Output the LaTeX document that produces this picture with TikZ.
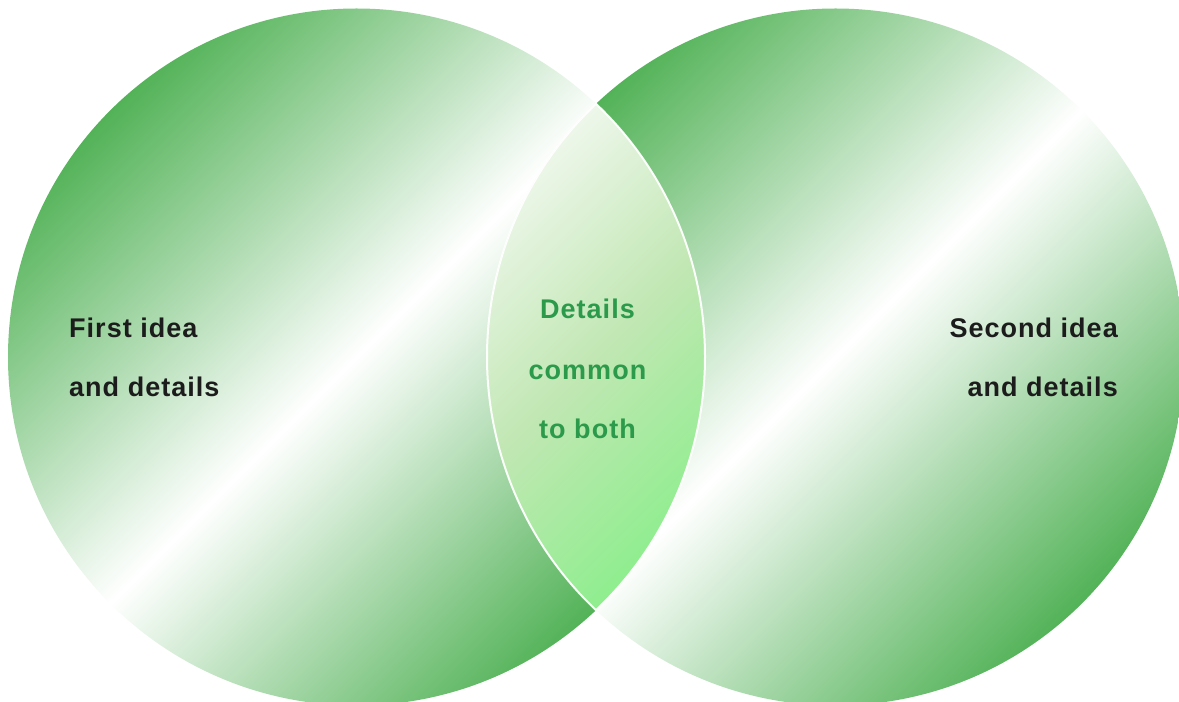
\documentclass[tikz,border=0pt]{standalone}
\usepackage{fontspec}
\setmainfont{Liberation Sans}
\newfontfamily\lblfont{Liberation Sans}[LetterSpace=3.8]
\usetikzlibrary{calc}
\definecolor{vgreen}{HTML}{52B257}
\definecolor{lensA}{HTML}{EEF7EB}
\definecolor{lensB}{HTML}{C1E7B3}
\definecolor{lensC}{HTML}{8EEE8E}
\definecolor{txtdark}{HTML}{1C1C1C}
\definecolor{txtgreen}{HTML}{2B9A4A}
\begin{document}
\begin{tikzpicture}[x=1pt,y=1pt,
  lbl/.style={font=\lblfont\bfseries\fontsize{27}{27}\selectfont, text=txtdark, inner sep=0pt},
  lenslbl/.style={lbl, text=txtgreen},
  bigshade/.style={left color=vgreen, right color=vgreen, middle color=white}]
\fill[white] (0,0) rectangle (1179,702);
\useasboundingbox (0,0) rectangle (1179,702);
\coordinate (L) at (356.5,345);
\coordinate (R) at (835.5,345);
\coordinate (C) at (596,345);
% left circle
\begin{scope}
  \clip (L) circle[radius=348.5pt];
  \shade[bigshade, transform canvas={rotate around={-45:(L)}}]
    ($(L)+(-349.5,-355)$) rectangle ($(L)+(349.5,355)$);
\end{scope}
% right circle
\begin{scope}
  \clip (R) circle[radius=348.5pt];
  \shade[bigshade, transform canvas={rotate around={-45:(R)}}]
    ($(R)+(-349.5,-355)$) rectangle ($(R)+(349.5,355)$);
\end{scope}
% lens
\begin{scope}
  \clip (596,598.16) arc[start angle=133.41, end angle=226.59, radius=348.5pt]
        arc[start angle=-46.59, end angle=46.59, radius=348.5pt] -- cycle;
  \shade[left color=lensA, right color=lensC, middle color=lensB,
         transform canvas={rotate around={-45:(C)}}]
    ($(C)+(-182,-190)$) rectangle ($(C)+(182,190)$);
\end{scope}
\draw[white, line width=2pt, opacity=0.95]
  (596,598.16) arc[start angle=133.41, end angle=226.59, radius=348.5pt]
  arc[start angle=-46.59, end angle=46.59, radius=348.5pt] -- cycle;
% labels
\node[lbl, anchor=base west] (first1) at (69,364) {First idea};
\node[lbl, anchor=base west] (first2) at (69,305) {and details};
\node[lbl, anchor=base east] (second1) at (1118,364) {Second idea};
\node[lbl, anchor=base east] (second2) at (1118,305) {and details};
\node[lenslbl, anchor=base] (common1) at (587.5,383) {Details};
\node[lenslbl, anchor=base] (common2) at (587.5,322) {common};
\node[lenslbl, anchor=base] (common3) at (587.5,263) {to both};
\end{tikzpicture}
\end{document}
